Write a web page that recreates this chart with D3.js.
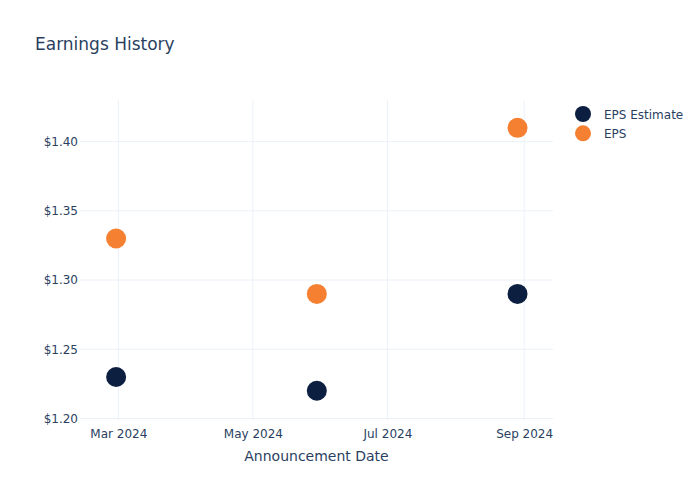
<!DOCTYPE html>
<html>
<head>
<meta charset="utf-8">
<script src="https://cdn.jsdelivr.net/npm/d3@7"></script>
<style>
  body { margin: 0; background: #fff; }
  svg { font-family: "DejaVu Sans", Verdana, sans-serif; }
</style>
</head>
<body>
<svg id="chart" width="700" height="500"></svg>
<script>
// ---- data ----
const dates = ["2024-02-29", "2024-05-30", "2024-08-29"];
const epsEstimate = [1.23, 1.22, 1.29];
const eps = [1.33, 1.29, 1.41];
const seriesNames = ["EPS Estimate", "EPS"];
const yTicks = [1.20, 1.25, 1.30, 1.35, 1.40];
const xTicks = ["2024-03-01", "2024-05-01", "2024-07-01", "2024-09-01"];
const xDomain = ["2024-02-12T15:00", "2024-09-14T02:00"];
const yDomain = [1.1989, 1.4301];

const textColor = "#2a3f5f";
const gridColor = "#ebf0f8";
const colors = ["#0c1f40", "#f58032"];

const svg = d3.select("#chart");
const margin = {left: 80, top: 100, right: 147, bottom: 80};
const W = 700, H = 500;

const parse = d3.timeParse("%Y-%m-%d");
const parseT = d3.timeParse("%Y-%m-%dT%H:%M");

const x = d3.scaleTime()
  .domain(xDomain.map(parseT))
  .range([margin.left, W - margin.right]);
const y = d3.scaleLinear()
  .domain(yDomain)
  .range([H - margin.bottom, margin.top]);

// gridlines
const g = svg.append("g");
g.selectAll(".vg").data(xTicks).enter().append("line")
  .attr("x1", d => x(parse(d))).attr("x2", d => x(parse(d)))
  .attr("y1", margin.top).attr("y2", H - margin.bottom)
  .attr("stroke", gridColor).attr("stroke-width", 1);
g.selectAll(".hg").data(yTicks).enter().append("line")
  .attr("x1", margin.left).attr("x2", W - margin.right)
  .attr("y1", d => y(d)).attr("y2", d => y(d))
  .attr("stroke", gridColor).attr("stroke-width", 1);

// axes
const xAxis = d3.axisBottom(x)
  .tickValues(xTicks.map(parse))
  .tickFormat(d3.timeFormat("%b %Y"))
  .tickSize(0).tickPadding(9);
const xg = svg.append("g")
  .attr("transform", `translate(0,${H - margin.bottom})`)
  .call(xAxis);
xg.select(".domain").remove();
xg.selectAll("text").attr("fill", textColor).style("font-size", "12px")
  .style("font-family", '"DejaVu Sans", Verdana, sans-serif');

const yAxis = d3.axisLeft(y)
  .tickValues(yTicks)
  .tickFormat(d => "$" + d3.format(".2f")(d))
  .tickSize(0).tickPadding(2);
const yg = svg.append("g")
  .attr("transform", `translate(${margin.left},0)`)
  .call(yAxis);
yg.select(".domain").remove();
yg.selectAll("text").attr("fill", textColor).style("font-size", "12px")
  .style("font-family", '"DejaVu Sans", Verdana, sans-serif');

// points
const series = [epsEstimate, eps];
series.forEach((vals, si) => {
  svg.append("g").selectAll("circle")
    .data(vals.map((v, i) => ({date: parse(dates[i]), v})))
    .enter().append("circle")
    .attr("cx", d => x(d.date))
    .attr("cy", d => y(d.v))
    .attr("r", 10)
    .attr("fill", colors[si]);
});

// title
svg.append("text")
  .attr("x", 35).attr("y", 50)
  .attr("fill", textColor)
  .style("font-size", "17px")
  .text("Earnings History");

// x axis title
svg.append("text")
  .attr("x", (margin.left + W - margin.right) / 2)
  .attr("y", 461)
  .attr("text-anchor", "middle")
  .attr("fill", textColor)
  .style("font-size", "14px")
  .text("Announcement Date");

// legend
const leg = svg.append("g");
seriesNames.forEach((name, i) => {
  const ly = 114 + i * 19.3;
  leg.append("circle").attr("cx", 583).attr("cy", ly).attr("r", 8).attr("fill", colors[i]);
  leg.append("text").attr("x", 604).attr("y", ly + 4.5)
    .attr("fill", textColor).style("font-size", "12px").text(name);
});
</script>
</body>
</html>
